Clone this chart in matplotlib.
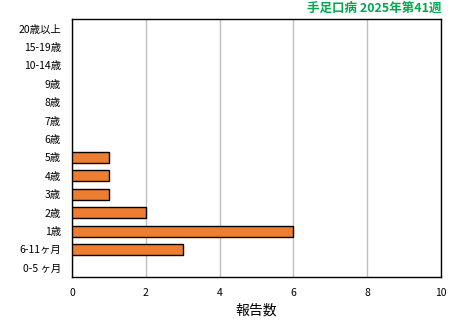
import matplotlib
matplotlib.use("Agg")
import matplotlib.pyplot as plt

plt.rcParams['font.family'] = ['Noto Sans CJK JP', 'DejaVu Sans']

# 年齢群（下から上）
age_groups = ["0-5 ヶ月", "6-11ヶ月", "1歳", "2歳", "3歳", "4歳", "5歳",
              "6歳", "7歳", "8歳", "9歳", "10-14歳", "15-19歳", "20歳以上"]
reports = [0, 3, 6, 2, 1, 1, 1, 0, 0, 0, 0, 0, 0, 0]
x_ticks = [0, 2, 4, 6, 8, 10]

fig = plt.figure(figsize=(4.6, 3.21), dpi=100)
ax = fig.add_axes([0.1565, 0.137, 0.8022, 0.8023])

ypos = list(range(len(age_groups)))
edges = ['black' if v > 0 else 'none' for v in reports]
ax.barh(ypos, reports, height=0.6, color='#ed7d31', edgecolor=edges,
        linewidth=1.0, zorder=3)

ax.set_xlim(0, 10)
ax.set_ylim(-0.5, len(age_groups) - 0.5)
ax.set_xticks(x_ticks)
ax.set_xticklabels([str(v) for v in x_ticks], fontsize=7.5)
ax.set_yticks(ypos)
ax.set_yticklabels(age_groups, fontsize=7.5)
ax.tick_params(length=0, pad=8)
ax.xaxis.grid(True, color='#bfbfbf', linewidth=1.0, zorder=0)
for s in ax.spines.values():
    s.set_linewidth(1.0)
    s.set_color('black')

ax.set_xlabel("報告数", fontsize=10, labelpad=4)
fig.text(0.9587, 0.975, "手足口病 2025年第41週", ha='right', va='center',
         fontsize=9, fontweight='bold', color='#00a850')

fig.savefig("out.png", dpi=100)
